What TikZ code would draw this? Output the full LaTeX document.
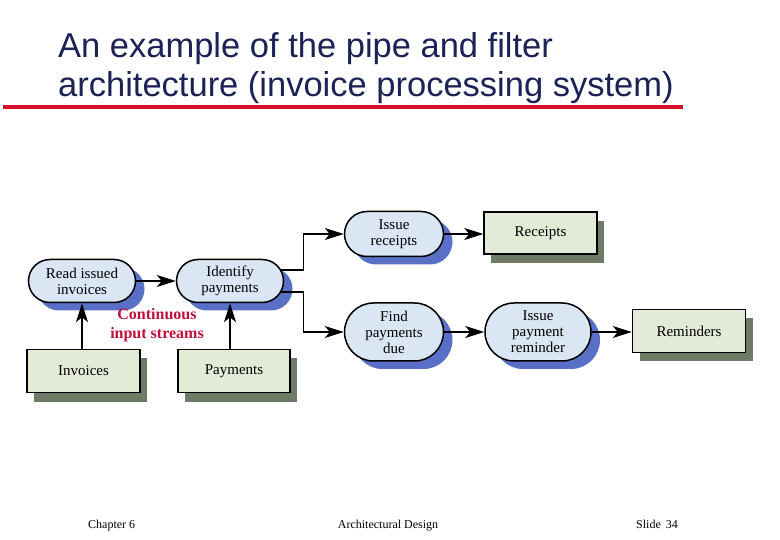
\documentclass[tikz,border=0pt]{standalone}
\usepackage{fontspec}
\setmainfont{Liberation Serif}
\newfontfamily\titlefont{Liberation Sans}
\usetikzlibrary{shapes.misc,arrows.meta,shadows}
\definecolor{titleblue}{HTML}{1C2255}
\definecolor{redline}{HTML}{D8102E}
\definecolor{procfill}{HTML}{DAE6F4}
\definecolor{shblue}{HTML}{5A6FC6}
\definecolor{storefill}{HTML}{E3EBD7}
\definecolor{shgreen}{HTML}{6E7B66}
\definecolor{notered}{HTML}{C0103C}
\tikzset{
  proc/.style={rounded rectangle, draw, line width=1.5pt, fill=procfill, align=center,
    font=\fontsize{15}{16}\selectfont, inner sep=2pt,
    general shadow={fill=shblue, shadow xshift=9pt, shadow yshift=-8pt}},
  store/.style={rectangle, draw, line width=1.5pt, fill=storefill, minimum height=43pt,
    font=\fontsize{15}{16}\selectfont, inner sep=2pt,
    general shadow={fill=shgreen, shadow xshift=7pt, shadow yshift=-9pt}},
  pipe/.style={line width=1.5pt, -{Stealth[length=19pt,width=12pt,inset=5pt]}},
  titletext/.style={anchor=base west, inner sep=0pt, text=titleblue, font=\titlefont\fontsize{34.5}{39}\selectfont},
  foot/.style={inner sep=0pt, font=\fontsize{12}{14}\selectfont}
}
\begin{document}
\begin{tikzpicture}[x=1pt,y=-1pt]
\useasboundingbox[fill=white] (0,0) rectangle (780,540);
% title
\node[titletext] (t1) at (58,58) {An example of the pipe and filter};
\node[titletext] (t2) at (58,97) {architecture (invoice processing system)};
\draw[line width=4pt, redline] (3,107) -- (683,107);
% filters
\node[proc, minimum width=111pt, minimum height=43pt] (rii) at (82,281) {Read issued\\invoices};
\node[proc, minimum width=111pt, minimum height=43pt] (idp) at (230,281) {Identify\\payments};
\node[proc, minimum width=103pt, minimum height=45pt] (isr) at (394,234) {Issue\\receipts};
\node[proc, minimum width=103pt, minimum height=58pt] (fpd) at (394,332) {Find\\payments\\due};
\node[proc, minimum width=110pt, minimum height=58pt] (ipr) at (538,332) {Issue\\payment\\reminder};
% stores
\node[store, minimum width=113pt, minimum height=42pt] (rec) at (540.5,233) {Receipts};
\node[store, minimum width=113pt] (rem) at (689,331) {Reminders};
\node[store, minimum width=113pt] (inv) at (83.5,371) {Invoices};
\node[store, minimum width=112pt] (pay) at (234,371) {Payments};
% label
\node[align=center, text=notered, inner sep=0pt, font=\bfseries\fontsize{16}{19}\selectfont] (cis) at (157,325) {Continuous\\input streams};
% pipes
\draw[pipe] (rii.east) -- (idp.west);
\draw[pipe] (rii.south |- inv.north) -- (rii.south);
\draw[pipe] (idp.south |- pay.north) -- (idp.south);
\draw[pipe] ([xshift=-3pt,yshift=11pt]idp.east) -- ++(22,0) |- (isr.west);
\draw[pipe] ([xshift=-3pt,yshift=-11pt]idp.east) -- ++(22,0) |- (fpd.west);
\draw[pipe] (isr.east) -- (isr.east -| rec.west);
\draw[pipe] (fpd.east) -- (ipr.west);
\draw[pipe] (ipr.east) -- (ipr.east -| rem.west);
% footer
\node[foot, anchor=base west] (f1) at (88,528) {Chapter 6};
\node[foot, anchor=base] (f2) at (388,528) {Architectural Design};
\node[foot, anchor=base west] (f3) at (636,528) {Slide\hspace{5pt}34};
\end{tikzpicture}
\end{document}
